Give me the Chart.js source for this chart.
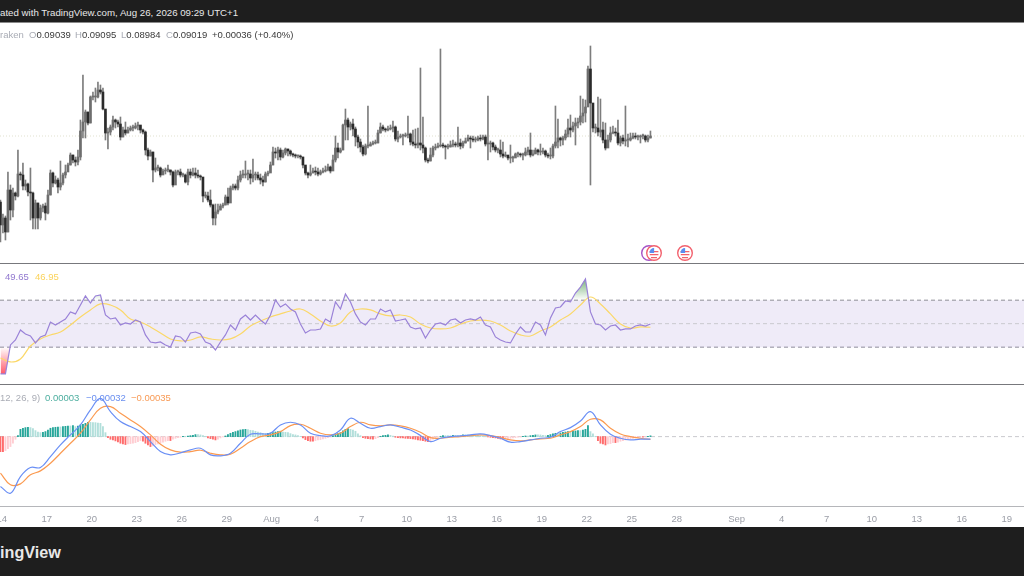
<!DOCTYPE html>
<html>
<head>
<meta charset="utf-8">
<title>4H chart with RSI and MACD</title>
<script src="https://cdn.jsdelivr.net/npm/chart.js@4/dist/chart.umd.min.js"></script>
<style>
  html, body { margin: 0; padding: 0; background: #fff; width: 1024px; height: 576px; overflow: hidden; font-family: "Liberation Sans", sans-serif; }
  canvas { position: absolute; left: 0; display: block; }
  .bar { position: absolute; left: 0; width: 1024px; background: #1e1e1e; }
  .rule { position: absolute; left: 0; width: 1024px; height: 1px; }
  .txt { position: absolute; white-space: nowrap; font-size: 9.5px; line-height: 12px; }
  svg { position: absolute; }
</style>
</head>
<body>
<div class="bar" style="top:0;height:22px"></div>
<div class="bar" style="top:527px;height:49px"></div>
<div class="rule" style="top:22px;background:#8a8a8a"></div>
<div class="rule" style="top:263px;background:#77787c"></div>
<div class="rule" style="top:384px;background:#77787c"></div>
<div class="rule" style="top:506px;background:#b5b6ba"></div>

<canvas id="priceChart" width="1024" height="240" style="top:23px"></canvas>
<canvas id="rsiChart" width="1024" height="119" style="top:264px"></canvas>
<canvas id="macdChart" width="1024" height="141" style="top:385px"></canvas>

<div class="txt" style="left:0;top:7px;color:#e8e8e8;font-size:9.7px">ated with TradingView.com, Aug 26, 2026 09:29 UTC+1</div>
<div class="txt" style="left:0;top:29px;color:#a9acb5">raken</div>
<div class="txt" style="left:29px;top:29px;color:#a9acb5">O<span style="color:#3a3a3a">0.09039</span></div>
<div class="txt" style="left:75px;top:29px;color:#a9acb5">H<span style="color:#3a3a3a">0.09095</span></div>
<div class="txt" style="left:121px;top:29px;color:#a9acb5">L<span style="color:#3a3a3a">0.08984</span></div>
<div class="txt" style="left:166px;top:29px;color:#a9acb5">C<span style="color:#3a3a3a">0.09019</span></div>
<div class="txt" style="left:212px;top:29px;color:#3a3a3a">+0.00036 (+0.40%)</div>
<div class="txt" style="left:5px;top:271px;color:#9178cf">49.65</div>
<div class="txt" style="left:35px;top:271px;color:#fbd35a">46.95</div>
<div class="txt" style="left:0;top:392px;color:#a9acb5">12, 26, 9)</div>
<div class="txt" style="left:45px;top:392px;color:#4cae9f">0.00003</div>
<div class="txt" style="left:86px;top:392px;color:#6a8ff0">−0.00032</div>
<div class="txt" style="left:131px;top:392px;color:#f89a55">−0.00035</div>
<div class="txt" style="left:0;top:543px;color:#e8e8e8;font-size:16.2px;line-height:18px;font-weight:bold">ingView</div>

<svg width="60" height="20" style="left:640px;top:243px" viewBox="0 0 60 20">
  <circle cx="9" cy="10" r="7.3" fill="#fff" stroke="#a653c7" stroke-width="1.4"/>
  <circle cx="14" cy="10" r="7.3" fill="#fff" stroke="#f2616d" stroke-width="1.4"/>
  <path d="M9.6 8h8.8v1.3h-8.8zM9.8 11h8.6v1.3h-8.6zM11 14h6v1.2h-6z" fill="#f2616d"/>
  <path d="M9.5 10a4.6 4.6 0 0 1 4.6-5v5z" fill="#5b8def"/>
  <circle cx="45" cy="10" r="7.3" fill="#fff" stroke="#f2616d" stroke-width="1.4"/>
  <path d="M40.6 8h8.8v1.3h-8.8zM40.8 11h8.6v1.3h-8.6zM42 14h6v1.2h-6z" fill="#f2616d"/>
  <path d="M40.5 10a4.6 4.6 0 0 1 4.6-5v5z" fill="#5b8def"/>
</svg>

<script>
// prices are in units of 0.0001, days are counted from 1 July (32 = 1 Aug, 63 = 1 Sep)
var xMin = 13.887;
var xMax = 82.153;
var firstBarDay = 13.9167;
var barsPerDay = 6;

var opens = [
  836,813,820,806,848,828,845,842,864,863,852,854,846,845,820,835,820,830,832,825,
  843,865,855,858,851,855,863,866,873,883,878,876,881,907,916,926,915,941,941,941,
  948,946,929,905,906,911,918,916,914,901,908,905,908,910,910,912,913,908,906,888,
  882,886,868,870,870,863,867,868,868,866,853,866,866,863,863,856,866,863,865,863,
  862,861,842,842,838,833,820,826,828,832,833,841,835,850,852,850,858,863,863,864,
  864,860,863,863,860,858,856,864,865,873,886,885,888,881,885,889,887,884,883,882,
  882,881,873,865,863,865,867,866,864,866,867,868,871,867,878,890,886,888,913,918,
  911,914,909,901,896,891,884,892,892,894,895,895,905,911,909,908,909,910,911,899,
  901,902,902,903,904,896,894,893,895,893,890,878,877,883,890,891,892,893,892,891,
  891,893,894,893,895,892,895,897,900,899,898,898,900,899,901,894,894,895,891,888,
  888,884,882,883,880,880,880,884,884,883,883,886,888,883,884,888,886,886,887,883,
  882,882,892,896,900,898,900,904,910,908,912,915,916,922,925,931,969,935,910,910,
  906,908,898,890,898,905,906,905,895,900,897,898,898,900,902,901,901,902,902,898,
  900
];
var highs = [
  838,824,822,866,853,850,846,888,866,875,858,855,870,846,838,835,833,834,835,848,
  868,866,862,860,877,865,873,875,885,883,881,888,918,963,928,926,942,946,950,956,
  953,950,926,910,913,922,919,918,921,911,916,911,912,913,915,916,912,909,907,890,
  888,886,880,873,871,869,870,873,868,867,868,868,869,865,864,869,869,870,870,868,
  863,858,846,846,848,834,834,834,834,835,843,850,852,854,854,862,867,868,877,868,
  868,879,866,866,864,862,866,867,876,891,890,891,890,888,890,889,888,885,884,883,
  883,881,871,866,873,870,871,870,868,870,872,874,872,883,902,895,890,914,929,920,
  916,919,911,903,899,893,894,932,896,897,898,908,915,913,910,912,913,917,912,907,
  904,904,905,922,905,908,909,910,970,921,891,880,890,892,894,895,989,895,893,894,
  897,898,896,911,899,897,900,903,902,902,901,902,903,903,903,942,897,896,893,890,
  898,896,886,882,893,882,885,886,885,885,890,891,905,888,890,889,894,890,888,885,
  890,894,932,919,901,902,908,919,923,916,920,920,942,939,938,972,992,930,914,941,
  939,916,915,903,911,912,910,918,902,903,932,904,905,905,905,903,903,904,903,903,
  907
];
var lows = [
  796,805,798,806,818,821,838,841,858,848,848,842,818,809,809,809,818,826,818,824,
  843,851,854,845,848,853,860,868,873,875,872,873,878,900,900,913,915,938,936,940,
  944,928,898,889,903,908,910,911,898,901,903,905,907,907,909,908,905,904,883,878,
  882,856,866,867,861,865,864,866,863,851,862,863,861,861,855,853,860,862,860,860,
  858,836,840,836,831,813,813,824,828,830,833,833,848,848,848,848,856,860,860,858,
  854,856,858,858,854,852,856,862,866,873,880,878,878,880,883,882,882,881,880,880,
  879,870,863,860,862,865,863,862,863,865,866,867,865,873,876,880,885,888,898,898,
  908,902,892,890,886,882,883,890,892,893,894,895,905,907,906,907,908,906,897,896,
  900,893,901,900,893,892,890,890,888,885,876,875,877,881,888,890,891,890,879,889,
  891,891,891,891,889,890,895,897,890,896,896,897,897,898,892,878,886,888,886,885,
  881,880,881,878,875,876,882,881,881,878,882,883,881,882,885,883,883,884,881,880,
  879,880,890,890,892,893,898,901,901,906,893,910,913,915,916,935,853,906,905,902,
  901,895,888,896,896,904,902,893,892,894,892,891,897,899,899,898,895,899,896,896,
  900
];
var closes = [
  813,820,806,848,828,845,842,864,863,852,854,846,845,820,835,820,830,832,825,843,
  865,855,858,851,855,863,866,873,883,878,876,881,907,916,926,915,941,941,941,948,
  946,929,905,906,911,918,916,914,901,908,905,908,910,910,912,913,908,906,888,882,
  886,868,870,870,863,867,868,868,866,853,866,866,863,863,856,866,863,865,863,862,
  861,842,842,838,833,820,826,828,832,833,841,835,850,852,850,858,863,863,864,864,
  860,863,863,860,858,856,864,865,873,886,885,888,881,885,889,887,884,883,882,882,
  881,873,865,863,865,867,866,864,866,867,868,871,867,878,890,886,888,913,918,911,
  914,909,901,896,891,884,892,892,894,895,895,905,911,909,908,909,910,911,899,901,
  902,902,903,904,896,894,893,895,893,890,878,877,883,890,891,892,893,892,891,891,
  893,894,893,895,892,895,897,900,899,898,898,900,899,901,894,894,895,891,888,888,
  884,882,883,880,880,880,884,884,883,883,886,888,883,884,888,886,886,887,883,882,
  882,892,896,900,898,900,904,910,908,912,915,916,922,925,931,969,935,910,910,906,
  908,898,890,898,905,906,905,895,900,897,898,898,900,902,901,901,902,902,898,900,
  902
];

// RSI is read every second bar, its average every fourth bar
var rsiValues = [
  7.2,7.2,31.9,36.1,44.6,41.2,39.5,33.6,38.7,40.4,
  51.4,48.9,51.4,54.0,60.0,58.3,65.9,73.6,67.6,73.6,
  74.4,57.4,54.0,54.9,48.9,50.6,49.7,53.1,51.4,40.4,
  34.4,33.6,34.4,31.9,30.2,39.5,38.7,34.4,42.1,42.9,
  41.2,34.4,32.7,27.6,34.4,40.4,48.9,44.6,54.0,57.4,
  53.1,57.4,53.1,49.7,57.4,70.2,64.2,66.8,62.5,60.0,
  49.7,42.1,44.6,44.6,45.5,54.0,51.4,68.5,62.5,75.3,
  68.5,58.3,51.4,48.9,54.0,54.0,62.5,60.0,61.7,52.3,
  53.1,54.0,47.2,45.5,46.3,37.8,44.6,49.7,50.6,48.9,
  53.1,54.0,50.6,53.1,54.0,53.1,55.7,48.9,47.2,38.7,
  36.1,34.4,33.6,41.2,47.2,42.9,42.9,51.4,48.9,40.4,
  54.9,63.4,64.2,69.3,68.5,76.1,81.2,88.0,60.0,49.7,
  48.9,44.6,48.0,48.9,44.6,45.5,45.5,48.0,48.9,48.0,49.7
];
var rsiAverage = [
  20.8,17.4,20.0,31.0,37.0,40.4,42.9,48.9,55.7,61.7,
  66.8,65.9,61.7,54.0,51.4,47.2,42.1,37.0,35.3,36.1,
  38.7,37.0,36.1,37.0,41.2,48.0,52.3,55.7,58.3,60.8,
  62.5,58.3,52.3,48.0,50.6,60.0,62.5,61.7,58.3,56.6,
  57.4,55.7,49.7,46.3,45.5,46.3,49.7,52.3,53.1,52.3,
  48.9,43.8,40.4,39.5,43.8,47.2,53.1,58.3,65.9,72.7,
  66.8,58.3,49.7,46.3,47.2,46.95
];
var rsiLevels = [70, 50, 30];

var macdLine = [
  -61.4,-69.7,-49.2,-38.1,-38.1,-24.6,-10.2,2.1,14.4,32.9,
  47.2,30.8,18.5,12.4,6.2,-6.1,-18.4,-22.5,-20.0,-16.4,
  -14.3,-22.5,-23.7,-20.5,-8.2,2.9,3.3,4.2,14.4,17.7,
  14.4,4.2,1.3,0.9,8.2,22.6,16.5,10.3,12.4,14.4,
  11.5,8.2,1.3,-6.1,-2.0,0.1,0.9,2.1,3.3,1.3,
  -2.0,-6.9,-6.1,-4.1,-2.0,-0.8,6.2,11.1,19.3,30.8,
  14.4,2.9,-2.0,-4.1,-3.2,-3.2
];
var signalLine = [
  -45.0,-59.4,-58.2,-47.1,-42.2,-32.8,-20.5,-8.2,4.2,20.6,
  34.9,37.0,28.8,20.6,12.4,2.1,-9.4,-16.4,-19.2,-18.4,
  -16.8,-20.5,-22.5,-21.7,-14.3,-6.1,0.0,2.1,6.2,13.6,
  15.2,10.3,4.2,2.1,4.2,12.4,17.7,14.4,13.2,14.4,
  13.2,10.3,5.4,-1.2,-2.0,-0.8,0.0,1.3,2.1,1.3,
  -1.2,-4.1,-5.3,-4.1,-2.8,-2.0,2.1,6.2,12.4,21.4,
  20.6,10.3,3.3,0.0,-2.0,-3.5
];
var histogram = [
  -18.5,-18.5,-17.2,-14.8,-12.3,-8.2,-3.3,1.2,9,10.3,11.1,11.5,11.1,9.8,7.4,5.7,4.9,5.3,6.2,8.2,
  10.3,11.1,11.5,11.9,11.9,12.3,12.7,13.1,13.1,13.5,12.3,13.1,14.4,15.2,16.4,17.6,17.6,17.2,17.2,16.8,
  16.4,12.3,4.9,-1.2,-3.3,-4.1,-5.3,-6.6,-8.2,-9,-9.8,-9,-8.6,-8.2,-7.4,-6.2,-4.9,-5.7,-8.2,-10.3,
  -12.3,-11.5,-9.8,-9,-8.2,-7,-5.7,-4.9,-4.9,-3.3,-2.1,-1.2,-0.8,0.4,0.4,0.8,1.2,1.6,2.5,2.5,
  2.1,1.2,0.4,-1.6,-2.5,-3.3,-4.1,-3.3,-1.6,-0.4,0.8,2.5,4.1,5.3,6.2,7,8.2,8.6,9,8.6,
  7.8,7.4,6.6,5.7,4.9,4.1,3.7,4.1,4.5,4.9,5.7,6.2,6.6,5.7,5.3,4.9,3.7,2.5,2.1,1.2,
  0.4,-1.6,-3.7,-4.9,-5.7,-5.7,-4.9,-4.1,-3.7,-2.9,-2.1,-1.2,-0.4,1.2,2.9,3.7,4.9,7,9,9.8,
  9,8.2,6.6,3.3,1.2,-1.2,-2.1,-2.5,-2.9,-3.3,-2.5,-1.2,0.4,1.2,1.6,2.1,1.6,0.8,-0.8,-1.2,
  -1.6,-1.6,-2.1,-2.1,-2.5,-2.9,-3.3,-4.1,-4.5,-4.9,-5.7,-6.2,-4.9,-3.3,-1.6,-0.4,0.4,1.2,1.2,1.2,
  1.2,1.6,1.6,1.6,1.6,2.1,2.1,2.1,2.1,2.1,1.6,1.6,1.2,0.8,0.4,-0.4,-0.8,-1.2,-1.6,-2.1,
  -2.9,-3.3,-2.9,-2.5,-2.1,-1.6,-1.2,-0.8,-0.4,0.4,0.8,0.8,1.2,1.6,2.1,2.1,2.1,1.6,1.2,1.6,
  2.5,3.3,4.1,4.1,4.5,5.3,5.7,6.2,6.2,6.6,7,7.4,7.4,8.2,9,13.5,6.2,3.3,0.4,-4.9,
  -8.2,-9,-10.3,-9,-8.6,-7.4,-7.4,-7,-5.7,-4.9,-4.1,-3.3,-2.5,-2.1,-1.6,-1.2,-0.8,-0.8,-0.4,0.2,
  1
];

var tickDays = [14,17,20,23,26,29,32,35,38,41,44,47,50,53,56,59,63,66,69,72,75,78,81];
var tickLabels = ['14','17','20','23','26','29','Aug','4','7','10','13','16','19','22','25','28','Sep','4','7','10','13','16','19'];

var barDays = closes.map(function (c, i) { return firstBarDay + i / barsPerDay; });

function points(values, step) {
  return values.map(function (v, i) { return { x: barDays[i * step], y: v }; });
}
function level(v) {
  return [{ x: xMin, y: v }, { x: xMax, y: v }];
}
function hiddenX() {
  return { type: 'linear', display: false, offset: false, min: xMin, max: xMax };
}
function baseOptions(yMin, yMax, xScale) {
  return {
    responsive: false,
    animation: false,
    events: [],
    layout: { padding: 0 },
    plugins: { legend: { display: false }, tooltip: { enabled: false } },
    scales: {
      x: xScale,
      y: { type: 'linear', display: false, min: yMin, max: yMax }
    }
  };
}

new Chart(document.querySelector('#priceChart'), {
  type: 'bar',
  data: {
    datasets: [
      {
        type: 'line',
        data: level(closes[closes.length - 1]),
        borderColor: 'rgba(200,200,170,0.55)',
        borderWidth: 1,
        borderDash: [1, 2],
        pointRadius: 0,
        order: 3
      },
      {
        data: barDays.map(function (d, i) { return { x: d, y: [lows[i], highs[i]] }; }),
        backgroundColor: '#7d7d7d',
        barThickness: 1,
        grouped: false,
        order: 2
      },
      {
        data: barDays.map(function (d, i) { return { x: d, y: [opens[i], closes[i]] }; }),
        backgroundColor: closes.map(function (c, i) { return c >= opens[i] ? '#6e6e6e' : '#2b2b2b'; }),
        barThickness: 2,
        minBarLength: 1,
        grouped: false,
        order: 1
      }
    ]
  },
  options: baseOptions(775, 1015, hiddenX())
});

var rsiCanvas = document.querySelector('#rsiChart');
var rsiCtx = rsiCanvas.getContext('2d');
var overboughtFill = rsiCtx.createLinearGradient(0, 13, 0, 36);
overboughtFill.addColorStop(0, 'rgba(56,142,60,0.75)');
overboughtFill.addColorStop(1, 'rgba(56,142,60,0)');
var oversoldFill = rsiCtx.createLinearGradient(0, 83, 0, 110);
oversoldFill.addColorStop(0, 'rgba(255,60,80,0)');
oversoldFill.addColorStop(1, 'rgba(255,60,80,0.85)');

var dashLine = { borderColor: '#8f8f98', borderWidth: 1, borderDash: [4, 3], pointRadius: 0 };

new Chart(rsiCanvas, {
  type: 'line',
  data: {
    datasets: [
      Object.assign({ data: level(rsiLevels[0]), fill: '+1', backgroundColor: 'rgba(126,87,194,0.12)', order: 6 }, dashLine),
      Object.assign({ data: level(rsiLevels[2]), order: 6 }, dashLine),
      Object.assign({ data: level(rsiLevels[1]), order: 5 }, dashLine, { borderColor: '#c9c9ce' }),
      {
        data: points(rsiValues, 2),
        borderWidth: 0,
        pointRadius: 0,
        fill: { target: { value: rsiLevels[0] }, above: overboughtFill, below: 'transparent' },
        order: 4
      },
      {
        data: points(rsiValues, 2),
        borderWidth: 0,
        pointRadius: 0,
        fill: { target: { value: rsiLevels[2] }, above: 'transparent', below: oversoldFill },
        order: 3
      },
      {
        data: points(rsiAverage, 4),
        borderColor: '#fbd869',
        borderWidth: 1.2,
        pointRadius: 0,
        tension: 0.4,
        order: 2
      },
      {
        data: points(rsiValues, 2),
        borderColor: '#9a82d8',
        borderWidth: 1.2,
        pointRadius: 0,
        order: 1
      }
    ]
  },
  options: baseOptions(-0.5, 100.8, hiddenX())
});

var histColors = histogram.map(function (v, i) {
  var prev = i > 0 ? histogram[i - 1] : v;
  if (v >= 0) return v > prev ? '#26a69a' : '#b2dfdb';
  return v > prev ? '#ffcdd2' : '#ff6b6b';
});

new Chart(document.querySelector('#macdChart'), {
  type: 'bar',
  data: {
    datasets: [
      Object.assign({ type: 'line', data: level(0), order: 4 }, dashLine, { borderColor: '#c9c9ce' }),
      {
        data: points(histogram, 1),
        backgroundColor: histColors,
        barThickness: 1.2,
        grouped: false,
        order: 3
      },
      {
        type: 'line',
        data: points(signalLine, 4),
        borderColor: '#fb9a50',
        borderWidth: 1.2,
        pointRadius: 0,
        tension: 0.4,
        order: 2
      },
      {
        type: 'line',
        data: points(macdLine, 4),
        borderColor: '#6a8ff5',
        borderWidth: 1.2,
        pointRadius: 0,
        tension: 0.4,
        order: 1
      }
    ]
  },
  options: baseOptions(-85.5, 63.6, {
    type: 'linear',
    offset: false,
    min: xMin,
    max: xMax,
    grid: { display: false },
    border: { display: false },
    ticks: {
      autoSkip: false,
      maxRotation: 0,
      padding: 0,
      color: '#9a9da6',
      font: { family: 'Liberation Sans', size: 9.5 },
      callback: function (v) { return tickLabels[tickDays.indexOf(v)]; }
    },
    afterBuildTicks: function (scale) {
      scale.ticks = tickDays.map(function (d) { return { value: d }; });
    },
    afterFit: function (scale) {
      scale.height = 20;
      scale.paddingLeft = 0;
      scale.paddingRight = 0;
    }
  })
});
</script>
</body>
</html>
